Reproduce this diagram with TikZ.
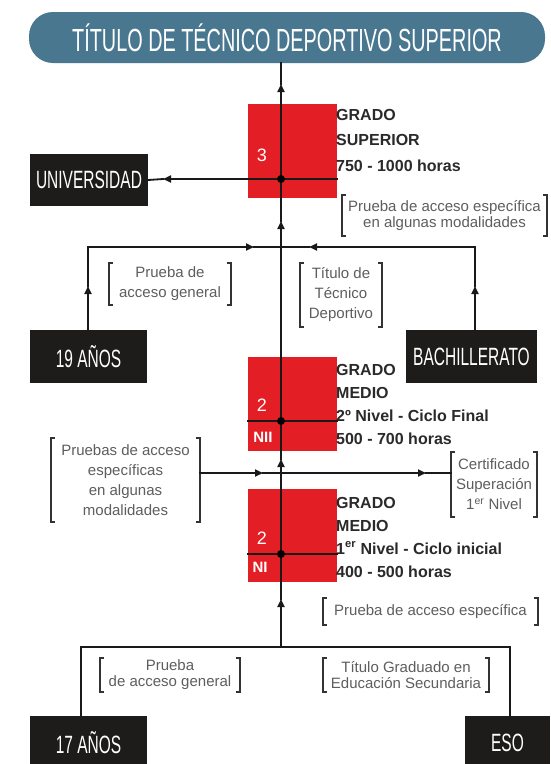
\documentclass[tikz,border=0pt]{standalone}
\usepackage{fontspec}
\setmainfont{Liberation Sans}
\newfontfamily\condfont{Liberation Sans}[FakeStretch=0.62]
\usepackage{tikz}
\usetikzlibrary{calc,arrows.meta,backgrounds}

\definecolor{titleblue}{HTML}{4A7790}
\definecolor{gradored}{HTML}{E31E25}
\definecolor{boxblack}{HTML}{1E1B1B}
\definecolor{notegray}{HTML}{5E5E5E}
\definecolor{textdark}{HTML}{2A2A2A}

\tikzset{
  line/.style={line width=1.8pt,draw=black!90,line cap=rect},
  tip/.style={line,-{Triangle[length=8pt,width=7pt]}},
  titlebar/.style={fill=titleblue,rounded corners=24pt,minimum width=516pt,minimum height=51pt,
    text=white,font=\condfont\fontsize{32}{32}\selectfont,inner sep=0pt},
  blackbox/.style={fill=boxblack,text=white,font=\condfont\fontsize{25}{25}\selectfont,
    minimum height=53pt,inner sep=0pt},
  gradobox/.style={fill=gradored,minimum width=89pt,inner sep=0pt},
  boxnum/.style={text=white,font=\fontsize{18}{18}\selectfont,inner sep=0pt},
  boxlevel/.style={text=white,font=\bfseries\fontsize{15}{15}\selectfont,inner sep=0pt},
  gradotext/.style={anchor=west,align=left,text=textdark,font=\bfseries\fontsize{16}{23}\selectfont,inner sep=0pt},
  note/.style={align=center,text=notegray,font=\fontsize{15}{20}\selectfont,inner sep=0pt},
  brk/.style={line width=1.5pt,draw=black!80},
  dot/.style={fill=black}
}

\newcommand{\brackets}[1]{%
  \draw[brk] ([xshift=4pt]#1.north west) -- (#1.north west) -- (#1.south west) -- ([xshift=4pt]#1.south west);
  \draw[brk] ([xshift=-4pt]#1.north east) -- (#1.north east) -- (#1.south east) -- ([xshift=-4pt]#1.south east);}

\begin{document}
\begin{tikzpicture}[x=1pt,y=-1pt]
  \path[use as bounding box,fill=white] (0,0) rectangle (550,764);

  \node[titlebar] (title) at (287,37.5) {TÍTULO DE TÉCNICO DEPORTIVO SUPERIOR};

  \node[gradobox,minimum height=94pt] (g3) at (292.5,151) {};
  \node[gradobox,minimum height=94pt] (g2b) at (292.5,404) {};
  \node[gradobox,minimum height=93pt] (g2a) at (292.5,535.5) {};
  \node[boxnum] (n3) at (262,155) {3};
  \node[boxnum] (n2b) at (262,405) {2};
  \node[boxlevel] (l2b) at (263,437) {NII};
  \node[boxnum] (n2a) at (262,538) {2};
  \node[boxlevel] (l2a) at (260,567) {NI};

  \node[gradotext,font=\bfseries\fontsize{16}{25.5}\selectfont] (t3) at (336,140) {GRADO\\SUPERIOR\\750 - 1000 horas};
  \node[gradotext] (t2b) at (336,404) {GRADO\\MEDIO\\2º Nivel - Ciclo Final\\500 - 700 horas};
  \node[gradotext] (t2a) at (336,537) {GRADO\\MEDIO\\1\textsuperscript{er} Nivel - Ciclo inicial\\400 - 500 horas};

  \node[blackbox,minimum width=118pt,minimum height=52pt] (uni) at (89,180) {UNIVERSIDAD};
  \node[blackbox,minimum width=117pt] (age19) at (88.5,356.5) {19 AÑOS};
  \node[blackbox,minimum width=131pt] (bach) at (471.5,356.5) {BACHILLERATO};
  \node[blackbox,minimum width=117pt,minimum height=54pt] (age17) at (88.5,743) {17 AÑOS};
  \node[blackbox,minimum width=85pt,minimum height=54pt] (eso) at (507.5,743) {ESO};

  \node[note,minimum width=205pt,minimum height=41pt,font=\fontsize{15}{16}\selectfont] (espsup) at (444.5,215.5) {Prueba de acceso específica\\en algunas modalidades};
  \node[note,minimum width=122pt,minimum height=42pt] (gen19) at (170,284) {Prueba de\\acceso general};
  \node[note,minimum width=82pt,minimum height=64pt] (titTD) at (341,295) {Título de\\Técnico\\Deportivo};
  \node[note,minimum width=149pt,minimum height=84pt] (espmed) at (125.5,480) {Pruebas de acceso\\específicas\\en algunas\\modalidades};
  \node[note,minimum width=86pt,minimum height=65pt] (certif) at (494,484.5) {Certificado\\Superación\\1\textsuperscript{er} Nivel};
  \node[note,minimum width=215pt,minimum height=27pt] (espini) at (430.5,611.5) {Prueba de acceso específica};
  \node[note,minimum width=140pt,minimum height=34pt,font=\fontsize{15}{16}\selectfont] (gen17) at (170,675) {Prueba\\de acceso general};
  \node[note,minimum width=166pt,minimum height=34pt,font=\fontsize{15}{16}\selectfont] (titESO) at (406,675) {Título Graduado en\\Educación Secundaria};

  \brackets{espsup}
  \brackets{gen19}
  \brackets{titTD}
  \brackets{espmed}
  \brackets{certif}
  \brackets{espini}
  \brackets{gen17}
  \brackets{titESO}

  \coordinate (j3) at (281,179);
  \coordinate (j2b) at (281,421);
  \coordinate (j2a) at (281,554);
  \coordinate (h1l) at (88,247);
  \coordinate (h1c) at (281,247);
  \coordinate (h1r) at (475,247);
  \coordinate (h2c) at (281,473);
  \coordinate (h3l) at (81,647);
  \coordinate (h3c) at (281,647);
  \coordinate (h3r) at (510,647);
  \coordinate (a1) at (281,84);
  \coordinate (a2) at (281,221);
  \coordinate (a3) at (281,459);
  \coordinate (a4) at (281,599);
  \coordinate (a5) at (254,247);
  \coordinate (a6) at (309,247);
  \coordinate (a7) at (88,286);
  \coordinate (a8) at (475,286);
  \coordinate (a9) at (263,473);
  \coordinate (a10) at (426,473);
  \coordinate (a11) at (163,179);

  \draw[line] (g3.east |- j3) -- (j3);
  \draw[tip] (j3) -- (a11);
  \draw[line] (a11) -- (uni.east);
  \draw[line] (g2b.west |- j2b) -- (g2b.east |- j2b);
  \draw[line] (g2a.west |- j2a) -- (g2a.east |- j2a);

  \draw[tip] (h3c) -- (a4);
  \draw[line] (a4) -- (h2c);
  \draw[tip] (h2c) -- (a3);
  \draw[line] (a3) -- (h1c);
  \draw[tip] (h1c) -- (a2);
  \draw[tip] (a2) -- (a1);
  \draw[line] (a1) -- (a1 |- title.south);

  \draw[tip] (h1l) -- (a5);
  \draw[line] (a5) -- (h1c);
  \draw[tip] (h1r) -- (a6);
  \draw[line] (a6) -- (h1c);
  \draw[tip] (h1l |- age19.north) -- (a7);
  \draw[line] (a7) -- (h1l);
  \draw[tip] (h1r |- bach.north) -- (a8);
  \draw[line] (a8) -- (h1r);

  \draw[tip] (espmed.east |- h2c) -- (a9);
  \draw[line] (a9) -- (h2c);
  \draw[tip] (h2c) -- (a10);
  \draw[line] (a10) -- (certif.west |- h2c);

  \draw[line] (h3l |- age17.north) -- (h3l) -- (h3r) -- (h3r |- eso.north);

  \fill[dot] (j3) circle (4pt);
  \fill[dot] (j2b) circle (4pt);
  \fill[dot] (j2a) circle (4pt);
\end{tikzpicture}
\end{document}
